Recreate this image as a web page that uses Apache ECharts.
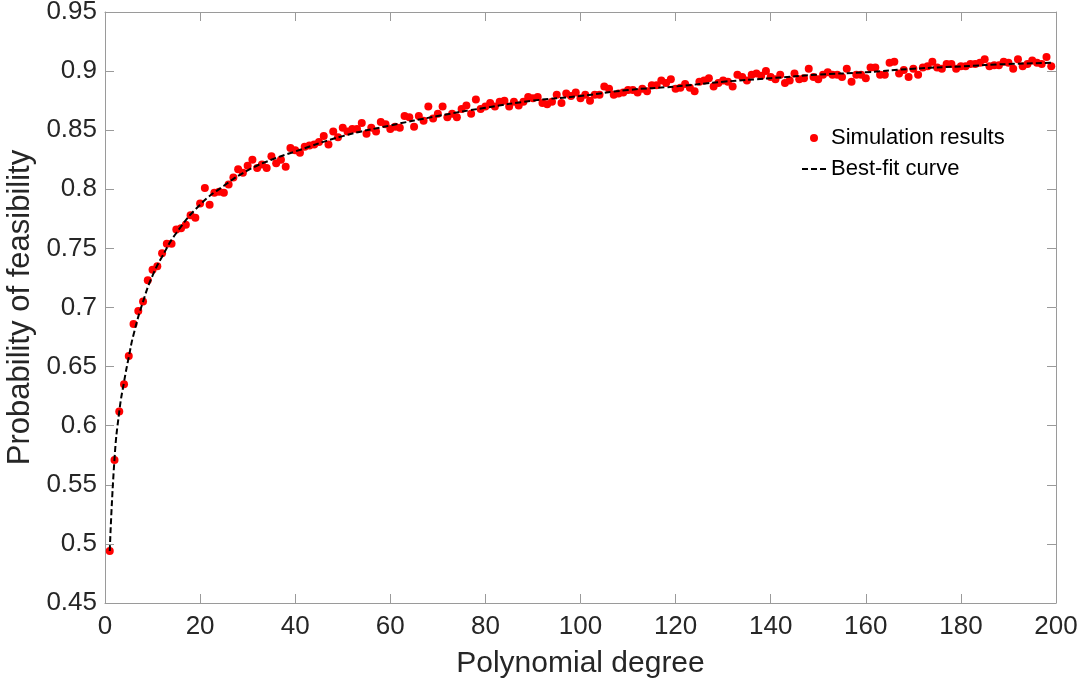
<!DOCTYPE html>
<html>
<head>
<meta charset="utf-8">
<script src="https://cdn.jsdelivr.net/npm/echarts@6/dist/echarts.min.js"></script>
<style>
  html, body { margin: 0; padding: 0; background: #fff; }
  #feasibilitychart { width: 1083px; height: 681px; }
</style>
</head>
<body>
<div id="feasibilitychart"></div>
<script>
// simulation results, polynomial degree 1..199
var firstDegree = 1;
var simValues = [
  0.494, 0.571, 0.612, 0.635, 0.659, 0.686, 0.697, 0.705, 0.723, 0.732,
  0.735, 0.746, 0.754, 0.754, 0.766, 0.767, 0.770, 0.778, 0.776, 0.788,
  0.801, 0.787, 0.797, 0.798, 0.797, 0.804, 0.810, 0.817, 0.814, 0.820,
  0.825, 0.818, 0.821, 0.818, 0.828, 0.822, 0.825, 0.819, 0.835, 0.833,
  0.831, 0.836, 0.837, 0.838, 0.840, 0.845, 0.838, 0.849, 0.844, 0.852,
  0.849, 0.851, 0.851, 0.856, 0.847, 0.852, 0.849, 0.857, 0.855, 0.851,
  0.853, 0.852, 0.862, 0.861, 0.853, 0.862, 0.858, 0.870, 0.860, 0.864,
  0.870, 0.861, 0.864, 0.861, 0.868, 0.871, 0.864, 0.876, 0.868, 0.870,
  0.873, 0.870, 0.874, 0.875, 0.870, 0.874, 0.871, 0.874, 0.878, 0.877,
  0.878, 0.873, 0.872, 0.874, 0.880, 0.873, 0.881, 0.879, 0.882, 0.877,
  0.880, 0.875, 0.880, 0.880, 0.887, 0.885, 0.880, 0.881, 0.882, 0.884,
  0.884, 0.882, 0.885, 0.883, 0.888, 0.888, 0.892, 0.890, 0.893, 0.885,
  0.886, 0.889, 0.886, 0.883, 0.891, 0.892, 0.894, 0.887, 0.890, 0.892,
  0.891, 0.887, 0.897, 0.895, 0.892, 0.897, 0.898, 0.896, 0.900, 0.895,
  0.893, 0.897, 0.890, 0.892, 0.898, 0.893, 0.894, 0.902, 0.895, 0.893,
  0.897, 0.899, 0.897, 0.897, 0.895, 0.902, 0.891, 0.897, 0.897, 0.894,
  0.903, 0.903, 0.897, 0.897, 0.907, 0.908, 0.898, 0.901, 0.895, 0.902,
  0.897, 0.903, 0.904, 0.908, 0.903, 0.902, 0.906, 0.906, 0.902, 0.904,
  0.904, 0.906, 0.906, 0.907, 0.910, 0.904, 0.905, 0.905, 0.908, 0.907,
  0.902, 0.910, 0.904, 0.906, 0.909, 0.907, 0.906, 0.912, 0.904
];

// best-fit curve
var fitDegree = [1, 2, 3, 4, 5, 6, 8, 10, 12, 15, 20, 25, 30, 35, 40, 50, 60, 70, 80, 90, 100, 110, 120, 130, 140, 150, 160, 170, 180, 190, 199];
var fitValue = [0.494, 0.572, 0.612, 0.637, 0.658, 0.677, 0.705, 0.727, 0.743, 0.763, 0.787, 0.803, 0.816, 0.825, 0.832, 0.845, 0.854, 0.862, 0.869, 0.875, 0.879, 0.884, 0.887, 0.891, 0.894, 0.897, 0.899, 0.902, 0.904, 0.906, 0.907];

var xTicks = { min: 0, max: 200, interval: 20 };
var yTicks = { min: 0.45, max: 0.95, interval: 0.05 };

var axisGray = '#9a9a9a';
var textDark = '#262626';
var fontName = '"Liberation Sans", Arial, Helvetica, sans-serif';

var simData = simValues.map(function (v, i) { return [firstDegree + i, v]; });
var fitData = fitDegree.map(function (d, i) { return [d, fitValue[i]]; });

function boxAxis(extra) {
  var base = {
    type: 'value',
    axisLine: { show: true, onZero: false, lineStyle: { color: axisGray, width: 1 } },
    axisTick: { show: true, inside: true, length: 9, lineStyle: { color: axisGray } },
    splitLine: { show: false }
  };
  return Object.assign(base, extra);
}

var myChart = echarts.init(document.getElementById('feasibilitychart'));
myChart.setOption({
  backgroundColor: '#fff',
  animation: false,
  grid: { left: 105, right: 27, top: 12, bottom: 78, outerBoundsMode: 'none' },
  legend: {
    orient: 'vertical',
    left: 796,
    top: 122,
    itemWidth: 24,
    itemHeight: 8,
    itemGap: 9,
    textStyle: { fontSize: 22, color: '#000', fontFamily: fontName },
    data: [
      { name: 'Simulation results', icon: 'circle', itemStyle: { opacity: 1 } },
      { name: 'Best-fit curve', itemStyle: { opacity: 0 } }
    ]
  },
  xAxis: [
    boxAxis({
      position: 'bottom',
      min: xTicks.min, max: xTicks.max, interval: xTicks.interval,
      name: 'Polynomial degree',
      nameLocation: 'middle',
      nameGap: 46,
      nameTextStyle: { fontSize: 30, color: textDark, fontFamily: fontName },
      axisLabel: { fontSize: 26, color: textDark, margin: 11, fontFamily: fontName }
    }),
    boxAxis({
      position: 'top',
      min: xTicks.min, max: xTicks.max, interval: xTicks.interval,
      axisLabel: { show: false }
    })
  ],
  yAxis: [
    boxAxis({
      position: 'left',
      min: yTicks.min, max: yTicks.max, interval: yTicks.interval,
      name: 'Probability of feasibility',
      nameLocation: 'middle',
      nameGap: 57,
      nameTextStyle: { fontSize: 31, color: textDark, fontFamily: fontName },
      axisLabel: {
        fontSize: 26, color: textDark, margin: 8, fontFamily: fontName,
        formatter: function (v) { return String(+v.toFixed(2)); }
      }
    }),
    boxAxis({
      position: 'right',
      min: yTicks.min, max: yTicks.max, interval: yTicks.interval,
      axisLabel: { show: false }
    })
  ],
  series: [
    {
      name: 'Simulation results',
      type: 'scatter',
      symbol: 'circle',
      symbolSize: 8,
      itemStyle: { color: '#ff0000', opacity: 1 },
      data: simData,
      z: 2
    },
    {
      name: 'Best-fit curve',
      type: 'line',
      smooth: true,
      symbol: 'none',
      lineStyle: { color: '#000', width: 2, type: [6, 3] },
      itemStyle: { color: '#000' },
      data: fitData,
      z: 3
    }
  ]
});
</script>
</body>
</html>
